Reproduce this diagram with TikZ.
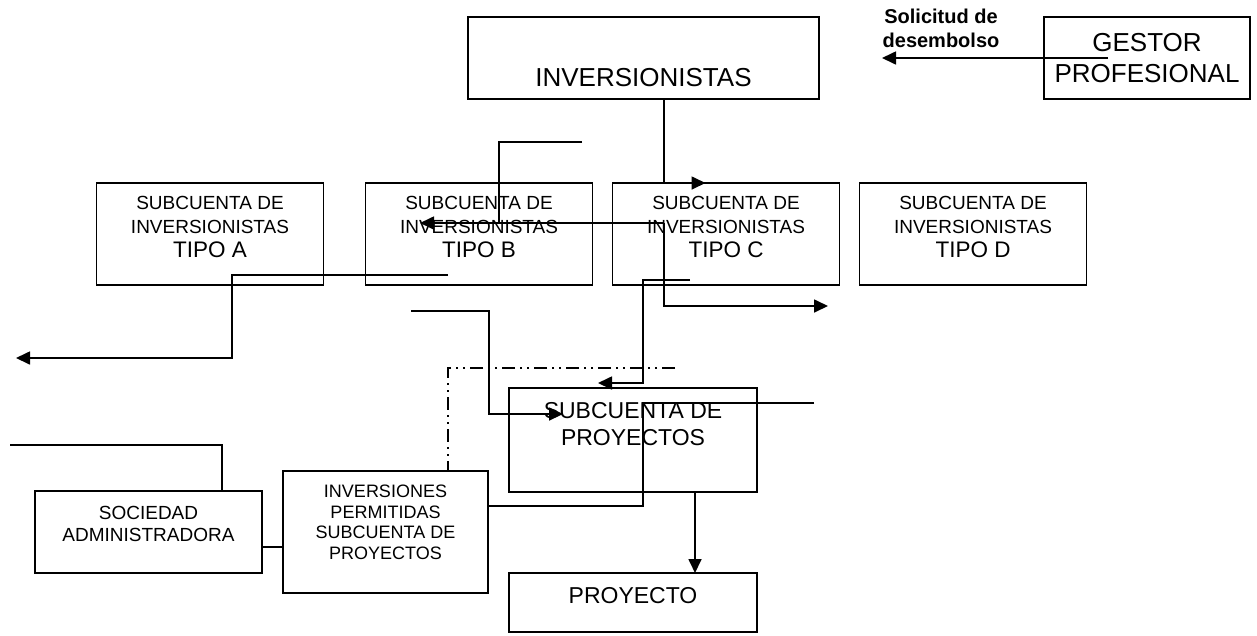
\documentclass[tikz,border=0pt]{standalone}
\usepackage{fontspec}
\setmainfont{Liberation Sans}
\usetikzlibrary{arrows.meta,positioning}

\begin{document}
\begin{tikzpicture}[x=1pt,y=-1pt,->,>={Triangle[length=14pt,width=13pt]},
                    line width=1.7pt,node distance=20pt]
  \tikzstyle{box}=[draw=black,rectangle,inner sep=0pt,outer sep=0pt]
  \tikzstyle{cuenta}=[box,minimum width=227pt,minimum height=102pt]
  \tikzstyle{txt}=[inner sep=0pt,align=center,text=black]
  \tikzstyle{dashdot}=[line width=1.5pt,dash pattern=on 13pt off 5pt on 2pt off 5pt on 2pt off 5pt]
  \useasboundingbox (0,0) rectangle (1257,635);

  \node[box,minimum width=351pt,minimum height=82pt] (inv) at (643.5,58) {};
  \node[txt,font=\fontsize{26}{31}\selectfont] (invtxt) at ([yshift=-20pt]inv.center) {INVERSIONISTAS};
  \node[box,minimum width=206pt,minimum height=82pt,align=center,
        font=\fontsize{26}{31}\selectfont] (gestor) at (1147,58) {GESTOR\\PROFESIONAL};
  \node[txt,font=\bfseries\fontsize{20}{24}\selectfont] (solicitud) at (941,28.5) {Solicitud de\\desembolso};

  \node[cuenta] (tipoA) at (210,234) {};
  \node[cuenta,right=42pt of tipoA] (tipoB) {};
  \node[cuenta,right=of tipoB] (tipoC) {};
  \node[cuenta,right=of tipoC] (tipoD) {};
  \foreach \t in {A,B,C,D}
    \node[txt,font=\fontsize{19}{24}\selectfont] (tipo\t txt) at ([yshift=-44pt]tipo\t.north)
      {SUBCUENTA DE\\INVERSIONISTAS\\{\fontsize{22.5}{24}\selectfont TIPO \t}};

  \node[box,minimum width=248pt,minimum height=104pt] (proys) at (633,440) {};
  \node[txt,font=\fontsize{23}{27}\selectfont] (proystxt) at ([yshift=-36.5pt]proys.north) {SUBCUENTA DE\\PROYECTOS};
  \node[box,minimum width=248pt,minimum height=59pt] (proyecto) at (633,602.5) {};
  \node[txt,font=\fontsize{23}{27}\selectfont] (proyectotxt) at ([yshift=-23pt]proyecto.north) {PROYECTO};

  \node[box,minimum width=205pt,minimum height=122pt] (invperm) at (385.5,532) {};
  \node[txt,font=\fontsize{18}{20.5}\selectfont] (invpermtxt) at ([yshift=-51.5pt]invperm.north)
    {INVERSIONES\\PERMITIDAS\\SUBCUENTA DE\\PROYECTOS};
  \node[box,minimum width=227pt,minimum height=82pt] (sociedad) at (148.5,532) {};
  \node[txt,font=\fontsize{19}{22}\selectfont] (sociedadtxt) at ([yshift=-33pt]sociedad.north)
    {SOCIEDAD\\ADMINISTRADORA};

  % free ends
  \coordinate (gTip) at (882,58);
  \coordinate (b1) at (582,142);
  \coordinate (b2) at (499,223);
  \coordinate (c2) at (664,223);
  \coordinate (bTip) at (420,223);
  \coordinate (cTip) at (828,306);
  \coordinate (a1) at (448,275);
  \coordinate (aTip) at (16,358);
  \coordinate (d1) at (411,311);
  \coordinate (dTip) at (563,414);
  \coordinate (e1) at (690,280);
  \coordinate (eTip) at (598,383);
  \coordinate (f1) at (814,403);
  \coordinate (g1) at (675,368);
  \coordinate (h1) at (10,445);

  \draw ([xshift=64pt]gestor.west) -- (gTip);
  \draw ([xshift=20.5pt]inv.south) |- ([xshift=-20.5pt]tipoC.north);
  \draw[-] (b1) -| (b2);
  \draw (c2) -- (bTip);
  \draw (c2) |- (cTip);
  \draw (a1) -- ++(-216,0) |- (aTip);
  \draw (d1) -- ++(78,0) |- (dTip);
  \draw (e1) -- ++(-47,0) |- (eTip);
  \draw[-] (f1) -- ++(-171,0) |- ([yshift=26pt]invperm.east);
  \draw ([xshift=62pt]proys.south) -- ([xshift=62pt]proyecto.north);
  \draw[-,dashdot] (g1) -| ([xshift=62.5pt]invperm.north);
  \draw[-] ([yshift=-15pt]sociedad.east) -- ([yshift=-15pt]invperm.west);
  \draw[-] (h1) -| ([xshift=73.5pt]sociedad.north);
\end{tikzpicture}
\end{document}
